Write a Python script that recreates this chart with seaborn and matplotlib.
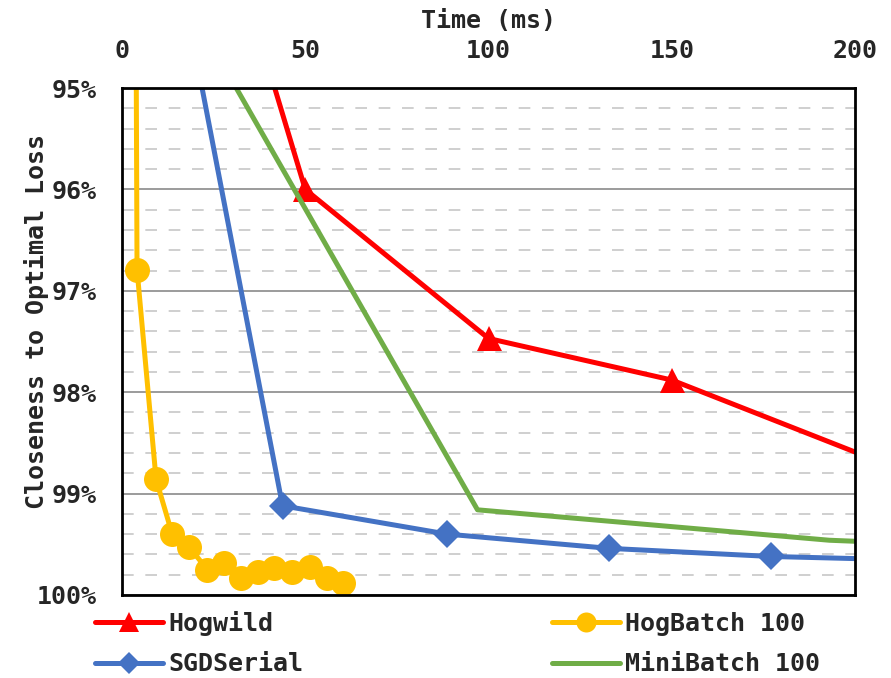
import numpy as np
import pandas as pd
import matplotlib
matplotlib.use("Agg")
import matplotlib.pyplot as plt
from matplotlib.ticker import MultipleLocator, FuncFormatter
import seaborn as sns

# data (time in ms, closeness in %)
hogwild_t = [0, 50, 100, 150, 250]
hogwild_y = [90.0, 96.0, 97.47, 97.88, 99.3]

hogbatch_t = [0, 4.1, 9.3, 13.7, 18.4, 23.3, 27.9, 32.6, 37.0, 41.6, 46.3, 51.2, 55.9, 60.3]
hogbatch_y = [60.0, 96.79, 98.86, 99.40, 99.53, 99.75, 99.68, 99.83, 99.77, 99.73, 99.77, 99.72, 99.83, 99.88]

sgd_t = [0, 43.8, 88.8, 132.9, 177.0, 221.0]
sgd_y = [90.9, 99.12, 99.40, 99.54, 99.62, 99.66]

minibatch_t = [0, 97, 193, 290]
minibatch_y = [93.03, 99.16, 99.46, 99.60]

sns.set_style("white")
plt.rcParams['font.family'] = ['DejaVu Sans Mono', 'DejaVu Sans']
plt.rcParams['font.weight'] = 'bold'

fig = plt.figure(figsize=(8.91, 6.78), dpi=100)
ax = fig.add_axes([122 / 891, 1 - 595 / 678, 733 / 891, 507 / 678])

series = [
    ("Hogwild", hogwild_t, hogwild_y, "#FF0000", "^", 18),
    ("SGDSerial", sgd_t, sgd_y, "#4472C4", "D", 14),
    ("HogBatch 100", hogbatch_t, hogbatch_y, "#FFC000", "o", 18),
    ("MiniBatch 100", minibatch_t, minibatch_y, "#70AD47", None, 0),
]

for name, t, y, col, mk, ms in series:
    df = pd.DataFrame({"t": t, "y": y})
    sns.lineplot(data=df, x="t", y="y", ax=ax, color=col, lw=3.6, sort=False,
                 estimator=None, marker=mk, markersize=ms, markeredgewidth=0,
                 label=name, legend=False)

ax.set_xlim(0, 200)
ax.set_ylim(100, 95)
ax.xaxis.tick_top()
ax.xaxis.set_label_position("top")
ax.set_xticks([0, 50, 100, 150, 200])
ax.yaxis.set_major_locator(MultipleLocator(1))
ax.yaxis.set_minor_locator(MultipleLocator(0.2))
ax.yaxis.set_major_formatter(FuncFormatter(lambda v, p: f"{v:.0f}%"))
ax.tick_params(axis="both", which="both", length=0, labelsize=18, pad=18)
ax.tick_params(axis="x", pad=18)

ax.grid(axis="y", which="major", color="#808080", lw=1.1, ls="-")
ax.grid(axis="y", which="minor", color="#CFCFCF", lw=1.4, ls=(0, (6, 6)))
ax.grid(axis="x", visible=False)
ax.set_axisbelow(True)
for s in ax.spines.values():
    s.set_color("black")
    s.set_linewidth(2)

ax.set_xlabel("Time (ms)", fontsize=18, fontweight="bold", labelpad=8)
ax.set_ylabel("Closeness to Optimal Loss", fontsize=18, fontweight="bold")
ax.yaxis.set_label_coords(-0.1, 0.54)

handles, labels = ax.get_legend_handles_labels()
fig.legend(handles, labels, ncol=2, loc="upper left",
           bbox_to_anchor=(95 / 891, 1 - 611 / 678), frameon=False,
           fontsize=18, handlelength=2.72, handletextpad=0.2, markerscale=0.8,
           columnspacing=9.96, labelspacing=0.65, borderpad=0, borderaxespad=0)

fig.savefig("out.png", dpi=100)
